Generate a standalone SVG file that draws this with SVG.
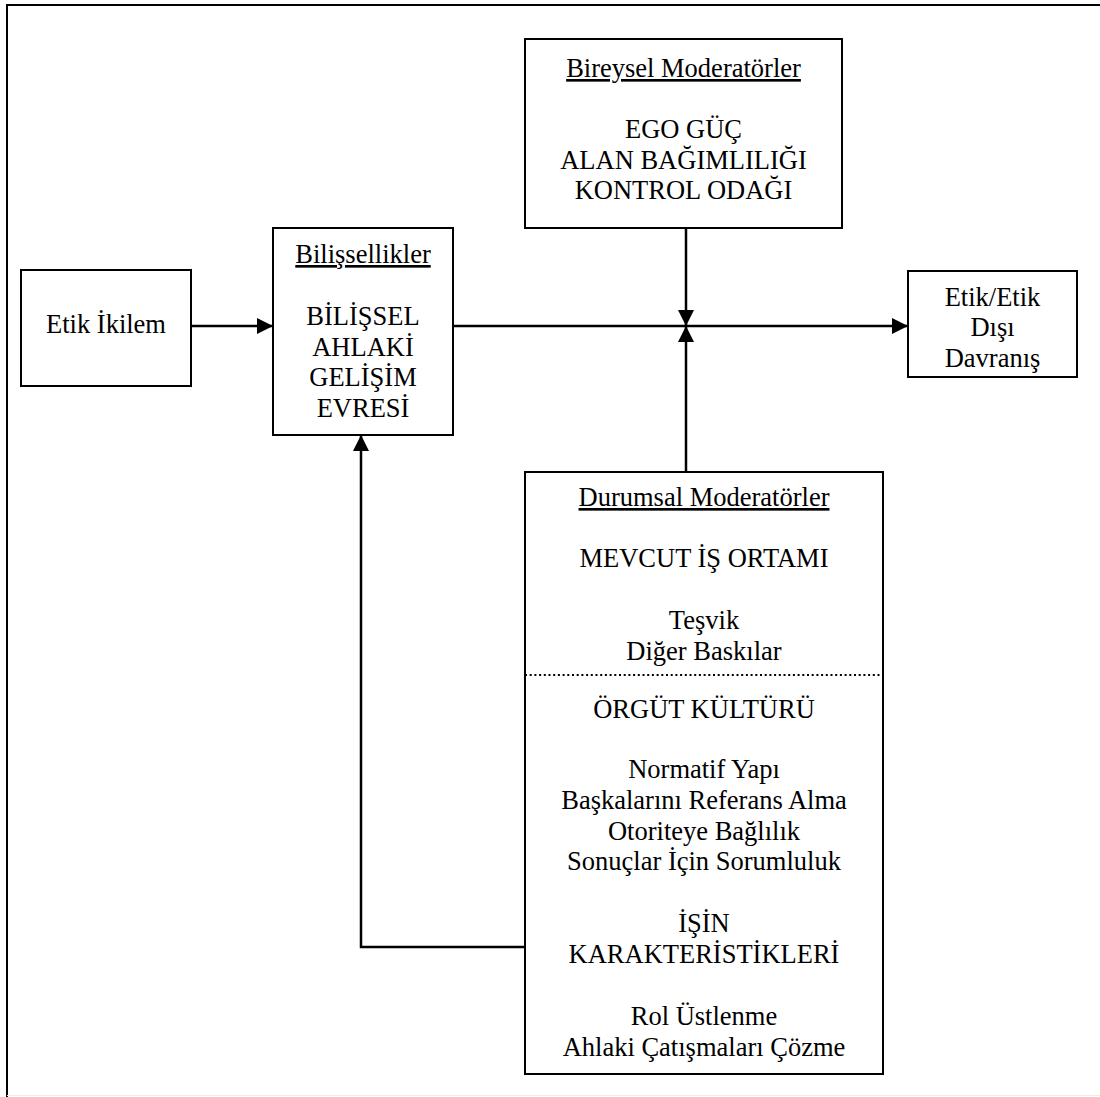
<svg xmlns="http://www.w3.org/2000/svg" width="1100" height="1097" viewBox="0 0 1100 1097">
  <style>
    .box { fill: #ffffff; stroke: #000000; stroke-width: 2; }
    text { font-family: 'Liberation Serif', 'DejaVu Serif', 'Times New Roman', serif; font-size: 26.5px; fill: #000000; text-anchor: middle; }
    .hd { text-decoration: underline; }
    .link { fill: none; stroke: #000000; stroke-width: 2.5; }
    .frame { fill: none; stroke: #000000; stroke-width: 2; }
  </style>
  <defs>
    <marker id="arrow" markerUnits="userSpaceOnUse" markerWidth="16" markerHeight="16" refX="16" refY="8" orient="auto">
      <path d="M0,0 L16,8 L0,16 z" fill="#000000"/>
    </marker>
  </defs>

  <rect x="0" y="0" width="1100" height="1097" fill="#ffffff"/>

  <!-- outer frame -->
  <g id="frame">
    <line class="frame" x1="6" y1="5" x2="1100" y2="5"/>
    <line class="frame" x1="7" y1="4" x2="7" y2="1097"/>
    <line x1="7" y1="1095.5" x2="1100" y2="1095.5" stroke="#ebebeb" stroke-width="1"/>
  </g>

  <!-- connectors -->
  <g id="connectors">
    <line class="link" x1="191" y1="326" x2="273" y2="326" marker-end="url(#arrow)"/>
    <line class="link" x1="453" y1="326" x2="908" y2="326" marker-end="url(#arrow)"/>
    <line class="link" x1="686" y1="228" x2="686" y2="326" marker-end="url(#arrow)"/>
    <line class="link" x1="686" y1="472" x2="686" y2="326" marker-end="url(#arrow)"/>
    <polyline class="link" points="525,947 361,947 361,435" marker-end="url(#arrow)"/>
  </g>

  <g font-family="Liberation Serif, DejaVu Serif, serif">
  <!-- Etik İkilem -->
  <g id="etik-ikilem">
    <rect class="box" x="21" y="270" width="170" height="116"/>
    <text x="106" y="333">Etik İkilem</text>
  </g>

  <!-- Bilişsellikler -->
  <g id="bilissellikler">
    <rect class="box" x="273" y="228" width="180" height="207"/>
    <text class="hd" x="363" y="263">Bilişsellikler</text>
    <text x="363" y="325">BİLİŞSEL</text>
    <text x="363" y="355.5">AHLAKİ</text>
    <text x="363" y="386">GELİŞİM</text>
    <text x="363" y="416.5">EVRESİ</text>
  </g>

  <!-- Bireysel Moderatörler -->
  <g id="bireysel-moderatorler">
    <rect class="box" x="525" y="39" width="317" height="189"/>
    <text class="hd" x="683.5" y="77">Bireysel Moderatörler</text>
    <text x="683.5" y="138">EGO GÜÇ</text>
    <text x="683.5" y="168.5">ALAN BAĞIMLILIĞI</text>
    <text x="683.5" y="199">KONTROL ODAĞI</text>
  </g>

  <!-- Etik/Etik Dışı Davranış -->
  <g id="davranis">
    <rect class="box" x="908" y="271" width="169" height="106"/>
    <text x="992.5" y="305.5">Etik/Etik</text>
    <text x="992.5" y="336">Dışı</text>
    <text x="992.5" y="366.5">Davranış</text>
  </g>

  <!-- Durumsal Moderatörler -->
  <g id="durumsal-moderatorler">
    <rect class="box" x="525" y="472" width="358" height="602"/>
    <line x1="525" y1="675" x2="883" y2="675" stroke="#000000" stroke-width="2" stroke-dasharray="2 2.7"/>
    <text class="hd" x="704" y="506">Durumsal Moderatörler</text>
    <text x="704" y="567">MEVCUT İŞ ORTAMI</text>
    <text x="704" y="629">Teşvik</text>
    <text x="704" y="660">Diğer Baskılar</text>
    <text x="704" y="718">ÖRGÜT KÜLTÜRÜ</text>
    <text x="704" y="778">Normatif Yapı</text>
    <text x="704" y="809">Başkalarını Referans Alma</text>
    <text x="704" y="839.5">Otoriteye Bağlılık</text>
    <text x="704" y="870">Sonuçlar İçin Sorumluluk</text>
    <text x="704" y="932">İŞİN</text>
    <text x="704" y="963">KARAKTERİSTİKLERİ</text>
    <text x="704" y="1025">Rol Üstlenme</text>
    <text x="704" y="1056">Ahlaki Çatışmaları Çözme</text>
  </g>
  </g>
</svg>
